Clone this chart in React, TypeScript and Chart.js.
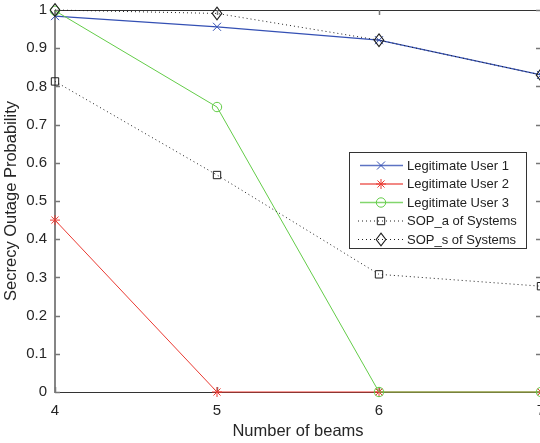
import React, { useEffect, useRef } from 'react';
import { Chart, registerables } from 'chart.js';

Chart.register(...registerables);

const beams = [4, 5, 6, 7];
const user1 = [0.984, 0.956, 0.921, 0.83];
const user2 = [0.45, 0, 0, 0];
const user3 = [0.998, 0.746, 0, 0];
const sopA = [0.813, 0.568, 0.308, 0.277];
const sopS = [1.0, 0.991, 0.921, 0.83];
const yTickValues = [0, 0.1, 0.2, 0.3, 0.4, 0.5, 0.6, 0.7, 0.8, 0.9, 1];
const xTickValues = [4, 5, 6, 7];
const seriesLabels = [
  'Legitimate User 1',
  'Legitimate User 2',
  'Legitimate User 3',
  'SOP_a of Systems',
  'SOP_s of Systems',
];

const BLUE = '#3450b4';
const RED = '#ea3a32';
const GREEN = '#63cc48';
const BLACK = '#1e1e1e';
const FONT = '"Liberation Sans", Arial, sans-serif';

function toPoints(vals: number[]) {
  return beams.map((b, i) => ({ x: b, y: vals[i] }));
}

export default function App() {
  const ref = useRef<HTMLCanvasElement | null>(null);

  useEffect(() => {
    if (!ref.current) return;

    const drawMarker = (ctx: CanvasRenderingContext2D, kind: string, x: number, y: number, color: string) => {
      ctx.save();
      ctx.strokeStyle = color;
      ctx.lineWidth = 1;
      ctx.setLineDash([]);
      ctx.beginPath();
      if (kind === 'crossRot') {
        const r = 4;
        ctx.moveTo(x - r, y - r); ctx.lineTo(x + r, y + r);
        ctx.moveTo(x + r, y - r); ctx.lineTo(x - r, y + r);
        ctx.stroke();
      } else if (kind === 'star') {
        const r = 5;
        const d = r * Math.SQRT1_2;
        ctx.moveTo(x - r, y); ctx.lineTo(x + r, y);
        ctx.moveTo(x, y - r); ctx.lineTo(x, y + r);
        ctx.moveTo(x - d, y - d); ctx.lineTo(x + d, y + d);
        ctx.moveTo(x + d, y - d); ctx.lineTo(x - d, y + d);
        ctx.stroke();
      } else if (kind === 'circle') {
        ctx.arc(x, y, 4.7, 0, Math.PI * 2);
        ctx.stroke();
      } else if (kind === 'rect') {
        ctx.rect(x - 3.7, y - 3.7, 7.4, 7.4);
        ctx.stroke();
      } else if (kind === 'diamond') {
        ctx.lineWidth = 1.1;
        ctx.moveTo(x, y - 6.3);
        ctx.lineTo(x + 4.8, y);
        ctx.lineTo(x, y + 6.3);
        ctx.lineTo(x - 4.8, y);
        ctx.closePath();
        ctx.stroke();
      }
      ctx.restore();
    };

    const legendKinds = ['crossRot', 'star', 'circle', 'rect', 'diamond'];
    const legendColors = [BLUE, RED, GREEN, BLACK, BLACK];
    const legendDotted = [false, false, false, true, true];

    const framePlugin = {
      id: 'framePlugin',
      beforeDatasetsDraw(chart: any) {
        const { ctx, chartArea } = chart;
        const { left, right, top, bottom } = chartArea;
        const xs = chart.scales.x;
        const ys = chart.scales.y;
        ctx.save();
        ctx.setLineDash([]);
        ctx.strokeStyle = '#333';
        ctx.lineWidth = 1;
        ctx.beginPath();
        ctx.moveTo(left, top + 0.5); ctx.lineTo(right, top + 0.5);
        ctx.moveTo(right - 0.5, top); ctx.lineTo(right - 0.5, bottom);
        ctx.moveTo(left, bottom + 0.5); ctx.lineTo(right, bottom + 0.5);
        ctx.stroke();
        ctx.strokeStyle = '#858585';
        ctx.lineWidth = 2;
        ctx.beginPath();
        ctx.moveTo(left, top); ctx.lineTo(left, bottom + 1);
        ctx.stroke();
        ctx.strokeStyle = '#777';
        ctx.lineWidth = 1.5;
        ctx.beginPath();
        yTickValues.forEach((v) => {
          const py = Math.round(ys.getPixelForValue(v)) + 0.5;
          ctx.moveTo(left, py); ctx.lineTo(left + 5, py);
          ctx.moveTo(right, py); ctx.lineTo(right - 5, py);
        });
        xTickValues.forEach((v) => {
          const px = Math.round(xs.getPixelForValue(v)) + 0.5;
          ctx.moveTo(px, top); ctx.lineTo(px, top + 5);
          ctx.moveTo(px, bottom); ctx.lineTo(px, bottom - 5);
        });
        ctx.stroke();
        ctx.restore();
      },
      afterDatasetsDraw(chart: any) {
        const { ctx } = chart;
        const meta = chart.getDatasetMeta(4);
        meta.data.forEach((el: any) => {
          drawMarker(ctx, 'diamond', el.x, el.y, BLACK);
        });
      },
      afterDraw(chart: any) {
        const { ctx } = chart;
        ctx.save();
        const bx = 349.5, by = 152.5, bw = 177, bh = 96;
        ctx.fillStyle = '#ffffff';
        ctx.fillRect(bx, by, bw, bh);
        ctx.strokeStyle = '#333';
        ctx.lineWidth = 1;
        ctx.setLineDash([]);
        ctx.strokeRect(bx, by, bw, bh);
        ctx.font = `13px ${FONT}`;
        ctx.textBaseline = 'middle';
        ctx.textAlign = 'left';
        seriesLabels.forEach((label, i) => {
          const y = 165 + i * 18.5;
          ctx.save();
          ctx.strokeStyle = legendColors[i];
          if (legendDotted[i]) {
            ctx.lineWidth = 1;
            ctx.setLineDash([1, 3]);
            ctx.beginPath();
            ctx.moveTo(358, y + 0.5); ctx.lineTo(404, y + 0.5);
            ctx.stroke();
          } else {
            ctx.lineWidth = 1.5;
            ctx.globalAlpha = 0.8;
            ctx.beginPath();
            ctx.moveTo(360, y + 0.5); ctx.lineTo(403, y + 0.5);
            ctx.stroke();
          }
          ctx.restore();
          drawMarker(ctx, legendKinds[i], 381, y + 0.5, legendColors[i]);
          ctx.fillStyle = '#222';
          ctx.fillText(label, 407, y + 1);
        });
        ctx.restore();
      },
    };

    const base = {
      borderWidth: 1,
      pointBorderWidth: 1,
      pointBackgroundColor: 'rgba(0,0,0,0)',
      clip: false as any,
      tension: 0,
    };

    const chart = new Chart(ref.current, {
      type: 'line',
      data: {
        datasets: [
          { ...base, label: seriesLabels[0], data: toPoints(user1), borderColor: BLUE, pointBorderColor: BLUE, pointStyle: 'crossRot', pointRadius: 5.7, borderWidth: 1.2, order: 5 },
          { ...base, label: seriesLabels[1], data: toPoints(user2), borderColor: RED, pointBorderColor: RED, pointStyle: 'star', pointRadius: 5, order: 4 },
          { ...base, label: seriesLabels[2], data: toPoints(user3), borderColor: GREEN, pointBorderColor: GREEN, pointStyle: 'circle', pointRadius: 4.7, order: 3 },
          { ...base, label: seriesLabels[3], data: toPoints(sopA), borderColor: BLACK, pointBorderColor: BLACK, pointStyle: 'rect', pointRadius: 5.2, borderDash: [1, 3], order: 2 },
          { ...base, label: seriesLabels[4], data: toPoints(sopS), borderColor: BLACK, pointBorderColor: BLACK, pointRadius: 0, borderDash: [1, 3], order: 1 },
        ],
      },
      options: {
        responsive: false,
        animation: false,
        layout: { padding: { top: 10, right: 19, left: 0, bottom: 0 } },
        plugins: { legend: { display: false }, tooltip: { enabled: false } },
        events: [],
        scales: {
          x: {
            type: 'linear',
            min: 4,
            max: 7,
            grid: { display: false, drawTicks: false },
            border: { display: false },
            afterBuildTicks: (s: any) => { s.ticks = xTickValues.map((v) => ({ value: v })); },
            afterFit: (s: any) => { s.height = 51; s.paddingLeft = 0; s.paddingRight = 0; },
            ticks: { padding: 10, color: '#262626', font: { family: FONT, size: 15 }, maxRotation: 0, callback: (v: any) => String(v) },
            title: { display: true, text: 'Number of beams', color: '#262626', font: { family: FONT, size: 16.5 }, padding: { top: 0, bottom: 2 } },
          },
          y: {
            type: 'linear',
            min: 0,
            max: 1,
            grid: { display: false, drawTicks: false },
            border: { display: false },
            afterBuildTicks: (s: any) => { s.ticks = yTickValues.map((v) => ({ value: v })); },
            afterFit: (s: any) => { s.width = 55; s.paddingTop = 0; s.paddingBottom = 0; },
            ticks: { padding: 8, color: '#262626', font: { family: FONT, size: 15 }, callback: (v: any) => String(Number(Number(v).toFixed(1))) },
            title: { display: true, text: 'Secrecy Outage Probability', color: '#262626', font: { family: FONT, size: 16.5 }, padding: { top: 2, bottom: 0 } },
          },
        },
      },
      plugins: [framePlugin],
    });

    return () => chart.destroy();
  }, []);

  return (
    <div style={{ position: 'absolute', left: 0, top: 0, width: 560, height: 443, overflow: 'visible' }}>
      <canvas ref={ref} width={560} height={443} style={{ display: 'block' }} />
    </div>
  );
}
